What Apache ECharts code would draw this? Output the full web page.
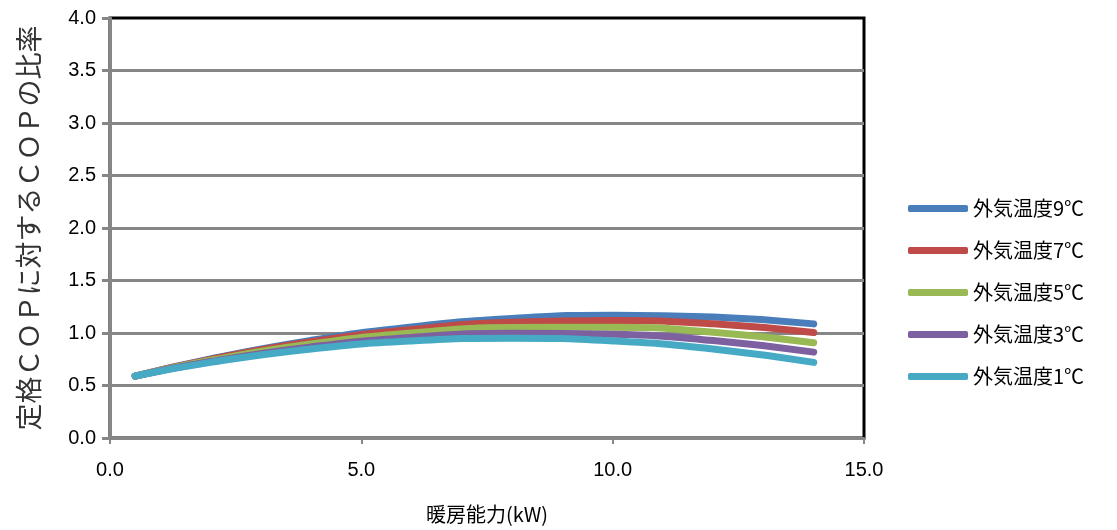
<html style="height: 100%">
	<head>
		<meta charset="utf-8">
	</head>
	<body style="height: 100%; width: 100%; margin: 0; background: #fff">
		<div id="container" style="height: 100%;width: 100%;"></div>
		<script type="text/javascript" src="https://cdn.jsdelivr.net/npm/echarts@6/dist/echarts.min.js"></script>
		<script type="text/javascript">
			// 暖房能力(kW)
			var capacity = [0.5, 2, 4, 6, 8, 10, 12, 14];
			var names = ['外気温度9℃', '外気温度7℃', '外気温度5℃', '外気温度3℃', '外気温度1℃'];
			var colors = ['#4a7ebb', '#be4b48', '#98b954', '#7d60a0', '#46aac5'];
			var temp9 = [0.59, 0.754, 0.93, 1.058, 1.138, 1.17, 1.153, 1.087];
			var temp7 = [0.59, 0.749, 0.917, 1.034, 1.102, 1.119, 1.087, 1.004];
			var temp5 = [0.59, 0.74, 0.895, 0.999, 1.052, 1.055, 1.007, 0.908];
			var temp3 = [0.59, 0.728, 0.868, 0.958, 0.998, 0.988, 0.928, 0.818];
			var temp1 = [0.59, 0.72, 0.848, 0.924, 0.95, 0.924, 0.848, 0.72];
			var allValues = [temp9, temp7, temp5, temp3, temp1];

			var dom = document.getElementById("container");
			var myChart = echarts.init(dom);
			var labelFont = "'Liberation Sans Narrow', 'Liberation Sans', Arial, sans-serif";
			var jpFont = "'Noto Sans CJK JP', sans-serif";

			var series = [];
			for (var i = 0; i < names.length; i++) {
				var pts = [];
				for (var j = 0; j < capacity.length; j++) {
					pts.push([capacity[j], allValues[i][j]]);
				}
				series.push({
					name: names[i],
					type: 'line',
					smooth: true,
					showSymbol: false,
					symbol: 'none',
					lineStyle: { width: 7, cap: 'round', color: colors[i] },
					itemStyle: { color: colors[i] },
					data: pts
				});
			}

			var option = {
				animation: false,
				backgroundColor: '#fff',
				grid: {
					left: 110, right: 253, top: 18, bottom: 92,
					show: true, borderColor: '#000', borderWidth: 3
				},
				legend: {
					orient: 'vertical',
					left: 903, top: 192,
					icon: 'roundRect',
					itemWidth: 60, itemHeight: 7,
					itemGap: 19,
					textStyle: { fontSize: 20, color: '#000', fontFamily: jpFont, lineHeight: 23 },
					data: names
				},
				xAxis: {
					type: 'value', min: 0, max: 15, interval: 5,
					name: '暖房能力(kW)', nameLocation: 'middle', nameGap: 66,
					nameTextStyle: { fontSize: 20, color: '#000', fontFamily: jpFont },
					axisLine: { lineStyle: { color: '#868686', width: 3 } },
					axisTick: { show: true, length: 6, lineStyle: { color: '#868686', width: 2 } },
					axisLabel: { fontSize: 20, color: '#000', margin: 22, fontFamily: labelFont,
						formatter: function (v) { return v.toFixed(1); } },
					splitLine: { show: false }
				},
				yAxis: {
					type: 'value', min: 0, max: 4, interval: 0.5,
					name: '定格ＣＯＰに対するＣＯＰの比率', nameLocation: 'middle', nameGap: 68,
					nameTextStyle: { fontSize: 27, color: '#333', fontFamily: jpFont },
					axisLine: { show: true, lineStyle: { color: '#868686', width: 3 } },
					axisTick: { show: true, length: 8, lineStyle: { color: '#868686', width: 3 } },
					axisLabel: { fontSize: 20, color: '#000', margin: 14, fontFamily: labelFont,
						formatter: function (v) { return v.toFixed(1); } },
					// 上端は黒い枠線を見せる
					splitLine: { showMaxLine: false, lineStyle: { color: '#868686', width: 3 } }
				},
				series: series
			};

			myChart.setOption(option);
		</script>
	</body>
</html>
